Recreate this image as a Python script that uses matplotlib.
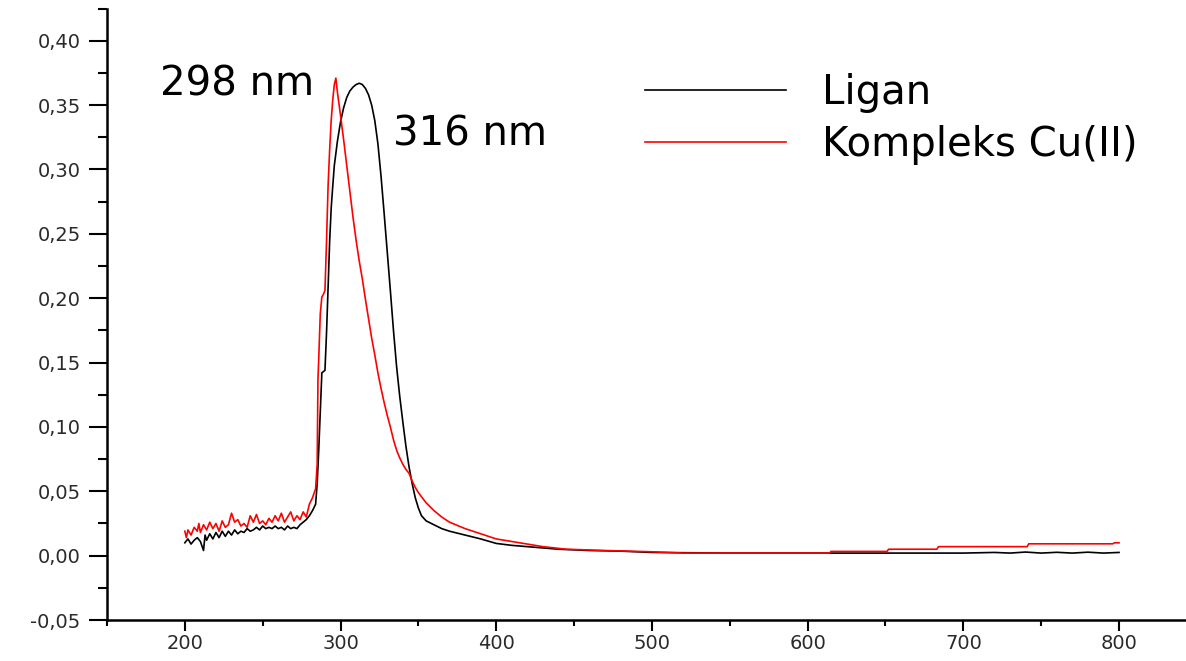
import matplotlib
matplotlib.use("Agg")
from matplotlib import pyplot as plt
from matplotlib.ticker import MultipleLocator, FixedLocator, FixedFormatter

# Ligan (black)
ligan_nm = [200, 202, 204, 206, 208, 210, 212, 213, 214, 216, 218, 220, 222, 224, 226, 228,
            230, 232, 234, 236, 238, 240, 242, 244, 246, 248, 250, 252, 254, 256, 258, 260,
            262, 264, 266, 268, 270, 272, 274, 276, 278, 280, 282, 284,
            285, 286, 287, 288, 289, 290, 291, 292, 293, 294, 295, 296, 298, 300, 302, 304,
            306, 308, 310, 312, 314, 316, 318, 320, 322, 324, 326, 328, 330, 332, 334, 336,
            338, 340, 342, 344, 346, 348, 350, 352, 355, 360, 365, 370, 380, 390, 400, 410,
            420, 430, 440, 460, 480, 500, 550, 600, 650, 700, 720, 730, 740, 750, 760, 770,
            780, 790, 800]
ligan_abs = [0.010, 0.013, 0.009, 0.012, 0.014, 0.011, 0.004, 0.016, 0.012, 0.017, 0.013, 0.018,
             0.014, 0.019, 0.015, 0.019, 0.016, 0.020, 0.017, 0.019, 0.018, 0.021, 0.019, 0.020,
             0.022, 0.020, 0.023, 0.021, 0.022, 0.021, 0.023, 0.021, 0.022, 0.020, 0.023, 0.021,
             0.022, 0.021, 0.024, 0.026, 0.028, 0.031, 0.035, 0.040,
             0.056, 0.082, 0.112, 0.142, 0.143, 0.144, 0.173, 0.208, 0.244, 0.270, 0.287, 0.303,
             0.322, 0.337, 0.348, 0.356, 0.361, 0.364, 0.366, 0.367, 0.366, 0.363, 0.358, 0.350,
             0.338, 0.320, 0.295, 0.266, 0.236, 0.206, 0.175, 0.147, 0.124, 0.104, 0.085, 0.069,
             0.056, 0.045, 0.037, 0.031, 0.027, 0.024, 0.021, 0.019, 0.016, 0.013, 0.0095, 0.008,
             0.007, 0.006, 0.005, 0.004, 0.0035, 0.0025, 0.002, 0.002, 0.002, 0.002, 0.0025, 0.002,
             0.0028, 0.002, 0.0026, 0.002, 0.0027, 0.002, 0.0025]

# Kompleks Cu(II) (red)
cu_nm = [200, 201, 202, 204, 206, 208, 209, 210, 212, 214, 216, 218, 220, 222, 224, 226, 228,
         230, 232, 234, 236, 238, 240, 242, 244, 246, 248, 250, 252, 254, 256, 258, 260, 262,
         264, 266, 268, 270, 272, 274, 276, 278, 280, 282, 284,
         285, 285.5, 286, 287, 288, 289, 290, 291, 292, 293, 294, 295, 296, 297, 298, 300, 302,
         304, 306, 308, 310, 312, 314, 316, 318, 320, 322, 324, 326, 328, 330, 332, 334, 336,
         338, 340, 342, 344, 346, 348, 350, 355, 360, 365, 370, 380, 390, 400, 410, 420, 430,
         445, 470, 500, 520, 614, 615, 651, 652, 683, 684, 741, 742, 796, 797, 800]
cu_abs = [0.019, 0.014, 0.020, 0.016, 0.022, 0.019, 0.025, 0.018, 0.024, 0.020, 0.026, 0.021,
          0.025, 0.019, 0.027, 0.022, 0.024, 0.033, 0.026, 0.028, 0.023, 0.025, 0.022, 0.031,
          0.026, 0.032, 0.025, 0.027, 0.024, 0.029, 0.026, 0.031, 0.027, 0.033, 0.026, 0.030,
          0.034, 0.027, 0.031, 0.028, 0.034, 0.030, 0.040, 0.045, 0.052,
          0.071, 0.137, 0.153, 0.188, 0.201, 0.203, 0.206, 0.244, 0.287, 0.315, 0.338, 0.354,
          0.366, 0.371, 0.360, 0.342, 0.323, 0.303, 0.283, 0.263, 0.245, 0.229, 0.215, 0.199,
          0.184, 0.169, 0.156, 0.142, 0.130, 0.119, 0.109, 0.100, 0.090, 0.082, 0.076, 0.071,
          0.067, 0.064, 0.058, 0.053, 0.049, 0.041, 0.035, 0.030, 0.026, 0.021, 0.017, 0.013,
          0.011, 0.009, 0.007, 0.005, 0.004, 0.003, 0.002, 0.002, 0.0033, 0.0033, 0.005, 0.005,
          0.007, 0.007, 0.0092, 0.0092, 0.010, 0.010]

y_ticks = [-0.05, 0.00, 0.05, 0.10, 0.15, 0.20, 0.25, 0.30, 0.35, 0.40]
y_tick_labels = ["-0,05", "0,00", "0,05", "0,10", "0,15", "0,20", "0,25", "0,30", "0,35", "0,40"]
x_ticks = [200, 300, 400, 500, 600, 700, 800]

fig = plt.figure(figsize=(11.86, 6.61), dpi=100)
ax = fig.add_axes([0.0902, 0.062, 0.9098, 0.925])

ax.plot(ligan_nm, ligan_abs, color="black", linewidth=1.2, label="Ligan")
ax.plot(cu_nm, cu_abs, color="red", linewidth=1.2, label="Kompleks Cu(II)")

ax.set_xlim(150, 843)
ax.set_ylim(-0.05, 0.425)

ax.spines["top"].set_visible(False)
ax.spines["right"].set_visible(False)
ax.spines["left"].set_linewidth(1.8)
ax.spines["bottom"].set_linewidth(1.8)

ax.xaxis.set_major_locator(FixedLocator(x_ticks))
ax.xaxis.set_minor_locator(MultipleLocator(50))
ax.yaxis.set_major_locator(FixedLocator(y_ticks))
ax.yaxis.set_major_formatter(FixedFormatter(y_tick_labels))
ax.yaxis.set_minor_locator(MultipleLocator(0.025))

ax.tick_params(axis="y", which="major", direction="out", length=13, width=1.5,
               labelsize=14, labelcolor="#2a2a2a", pad=6)
ax.tick_params(axis="y", which="minor", direction="out", length=6.5, width=1.5)
ax.tick_params(axis="x", which="major", direction="out", length=8, width=1.5,
               labelsize=14, labelcolor="#2a2a2a", pad=2)
ax.tick_params(axis="x", which="minor", direction="out", length=4.5, width=1.5)

ax.text(184, 0.366, "298 nm", fontsize=29, ha="left", va="center")
ax.text(334, 0.327, "316 nm", fontsize=29, ha="left", va="center")

ax.legend(loc="upper left", bbox_to_anchor=(645 / 1186, 1 - 73 / 661),
          bbox_transform=fig.transFigure, frameon=False, fontsize=29,
          handlelength=3.5, handletextpad=0.9, labelspacing=0.30,
          borderpad=0, borderaxespad=0)

fig.savefig("out.png", dpi=100)
